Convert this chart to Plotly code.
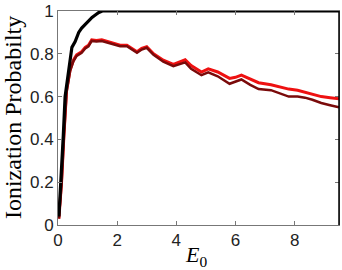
import plotly.graph_objects as go

# Black curve
black_x = [0.03, 0.08, 0.12, 0.18, 0.24, 0.30, 0.35, 0.41, 0.47, 0.58, 0.70, 0.80, 0.90, 1.02, 1.15, 1.25, 1.38, 1.50, 9.5]
black_y = [0.04, 0.15, 0.23, 0.42, 0.60, 0.66, 0.70, 0.78, 0.83, 0.857, 0.90, 0.92, 0.935, 0.95, 0.97, 0.98, 0.993, 1.0, 1.0]

# Bright red curve
red_x = [0.03, 0.12, 0.20, 0.29, 0.41, 0.52, 0.63, 0.80, 0.92, 1.03, 1.14, 1.30, 1.48, 1.87, 2.10, 2.33, 2.55, 2.67, 2.83, 3.00, 3.23, 3.56, 3.90, 4.13, 4.30, 4.50, 4.85, 5.08, 5.40, 5.80, 6.00, 6.20, 6.50, 6.78, 7.20, 7.50, 7.80, 8.10, 8.35, 8.60, 8.90, 9.20, 9.50]
red_y = [0.03, 0.20, 0.42, 0.63, 0.725, 0.77, 0.795, 0.81, 0.83, 0.84, 0.865, 0.862, 0.865, 0.85, 0.84, 0.84, 0.82, 0.81, 0.825, 0.833, 0.80, 0.77, 0.75, 0.763, 0.772, 0.745, 0.715, 0.73, 0.715, 0.685, 0.69, 0.70, 0.68, 0.665, 0.655, 0.645, 0.635, 0.63, 0.62, 0.61, 0.60, 0.595, 0.59]

# Dark red curve
dark_x = red_x
dark_y = [0.03, 0.19, 0.41, 0.62, 0.72, 0.765, 0.79, 0.805, 0.825, 0.835, 0.86, 0.857, 0.86, 0.845, 0.835, 0.835, 0.815, 0.805, 0.82, 0.828, 0.795, 0.763, 0.742, 0.753, 0.76, 0.73, 0.70, 0.713, 0.695, 0.66, 0.67, 0.68, 0.655, 0.635, 0.63, 0.615, 0.60, 0.60, 0.595, 0.585, 0.57, 0.56, 0.55]

x_ticks = [0, 2, 4, 6, 8]
y_ticks = [0, 0.2, 0.4, 0.6, 0.8, 1]
y_tick_text = ["0", "0.2", "0.4", "0.6", "0.8", "1"]

fig = go.Figure()
fig.add_trace(go.Scatter(x=red_x, y=red_y, mode="lines",
                         line=dict(color="#ee1111", width=3), cliponaxis=False))
fig.add_trace(go.Scatter(x=dark_x, y=dark_y, mode="lines",
                         line=dict(color="#7a0a0a", width=2.5), cliponaxis=False))
fig.add_trace(go.Scatter(x=black_x, y=black_y, mode="lines",
                         line=dict(color="black", width=3.2), cliponaxis=False))

axis_common = dict(showgrid=False, zeroline=False, showline=True, linecolor="#777",
                   linewidth=1, mirror="ticks", ticks="inside", ticklen=4,
                   tickcolor="#777", tickfont=dict(family="Liberation Sans, Arial", size=17, color="#222"))

fig.update_layout(
    width=342, height=270,
    margin=dict(l=58, r=3, t=11, b=45),
    paper_bgcolor="white", plot_bgcolor="white",
    showlegend=False,
    xaxis=dict(range=[0, 9.5], tickvals=x_ticks, **axis_common),
    yaxis=dict(range=[0, 1], tickvals=y_ticks, ticktext=y_tick_text, **axis_common),
    shapes=[dict(type="line", xref="paper", yref="paper", x0=1, x1=1, y0=0, y1=1,
                 line=dict(color="black", width=1.5))],
    annotations=[
        dict(text="Ionization Probabilty", xref="paper", yref="paper",
             x=-0.16, y=0.5, xanchor="center", yanchor="middle", textangle=-90,
             showarrow=False, font=dict(family="Liberation Serif, Times New Roman", size=24, color="black")),
        dict(text="<i>E</i><sub>0</sub>", xref="paper", yref="paper",
             x=0.49, y=-0.145, xanchor="center", yanchor="middle",
             showarrow=False, font=dict(family="Liberation Serif, Times New Roman", size=22, color="black")),
    ],
)

fig.write_html("out.html")
